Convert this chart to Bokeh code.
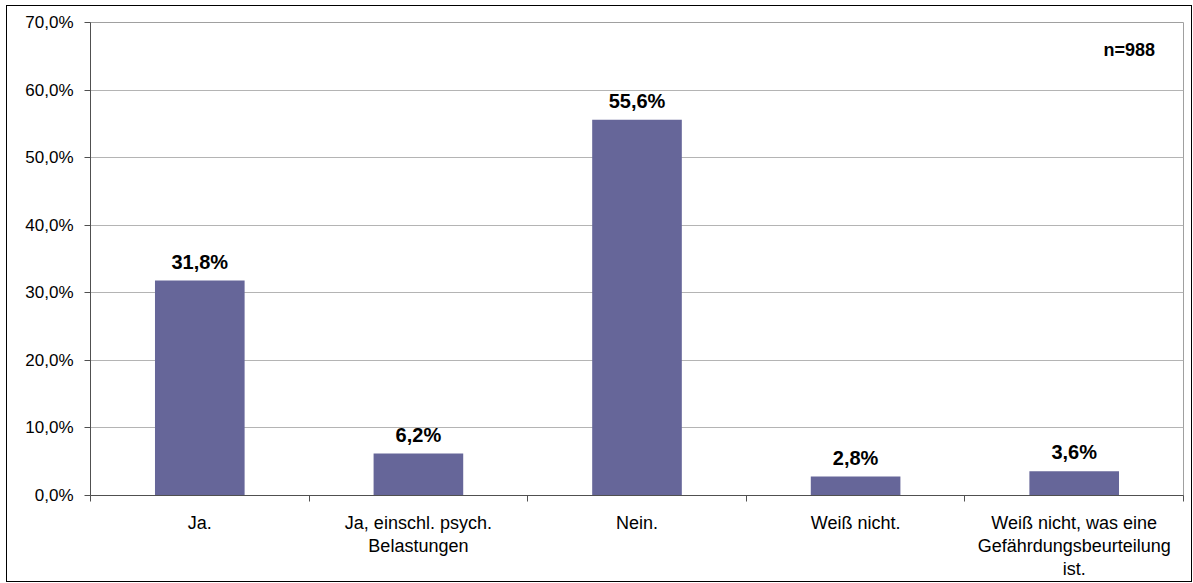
from bokeh.plotting import figure
from bokeh.models import (FixedTicker, Range1d, Label,
                          ColumnDataSource, CustomJSTickFormatter)
from bokeh.embed import file_html
from bokeh.resources import INLINE
from bokeh.core.properties import value

# ---- data ----
categories = ["Ja.",
              "Ja, einschl. psych.\nBelastungen",
              "Nein.",
              "Weiß nicht.",
              "Weiß nicht, was eine\nGefährdungsbeurteilung\nist."]
values = [31.8, 6.2, 55.6, 2.8, 3.6]
y_ticks = [0, 10, 20, 30, 40, 50, 60, 70]
sample_note = "n=988"

FONT = "Liberation Sans"
BAR = "#666699"

x_pos = [i + 0.5 for i in range(len(categories))]
boundaries = list(range(len(categories) + 1))
labels = [f"{v:.1f}%".replace(".", ",") for v in values]
src = ColumnDataSource(dict(x=x_pos, top=values, label=labels))

W, H = 1184, 575
p = figure(width=W, height=H,
           x_range=Range1d(0, len(categories)), y_range=Range1d(0, 70),
           output_backend="svg", toolbar_location=None,
           min_border_left=83, min_border_top=16,
           min_border_right=8, min_border_bottom=86)
p.background_fill_color = "white"
p.border_fill_color = "white"
p.outline_line_color = "#a0a0a0"
p.outline_line_width = 1
p.styles = {"margin-left": "7px", "margin-top": "6px",
            "outline": "1px solid black", "outline-offset": "0px"}

# bars
p.vbar(x="x", top="top", width=0.41, source=src,
       fill_color=BAR, line_color=None)

# value labels
p.text(x="x", y="top", text="label", source=src,
       text_align="center", text_baseline="middle", y_offset=-19,
       text_font=value(FONT), text_font_size="20px",
       text_font_style="bold", text_color="black")

# y axis
p.yaxis.ticker = FixedTicker(ticks=y_ticks)
p.yaxis.formatter = CustomJSTickFormatter(
    code="return tick.toFixed(1).replace('.', ',') + '%';")
p.yaxis.major_label_text_font = FONT
p.yaxis.major_label_text_font_size = "17px"
p.yaxis.major_label_text_color = "black"
p.yaxis.major_tick_out = 6
p.yaxis.major_tick_in = 0
p.yaxis.minor_tick_line_color = None
p.yaxis.axis_line_color = "#505050"
p.yaxis.major_tick_line_color = "#505050"
p.yaxis.major_label_standoff = 11

# x axis: ticks at category boundaries, labels at centers
p.xaxis.ticker = FixedTicker(ticks=x_pos, minor_ticks=boundaries)
p.xaxis.major_label_overrides = {x: c for x, c in zip(x_pos, categories)}
p.xaxis.major_tick_out = 0
p.xaxis.major_tick_in = 0
p.xaxis.minor_tick_out = 6
p.xaxis.minor_tick_in = 0
p.xaxis.minor_tick_line_color = "#505050"
p.xaxis.axis_line_color = "#505050"
p.xaxis.major_label_text_font = FONT
p.xaxis.major_label_text_font_size = "18px"
p.xaxis.major_label_text_color = "black"
p.xaxis.major_label_text_line_height = 1.15
p.xaxis.major_label_standoff = 11

# grid
p.xgrid.visible = False
p.ygrid.ticker = FixedTicker(ticks=y_ticks)
p.ygrid.grid_line_color = "#b4b4b4"
p.ygrid.grid_line_width = 1

# n note
p.add_layout(Label(x=4.87, y=65.9, text=sample_note,
                   text_align="right", text_baseline="middle",
                   text_font=FONT, text_font_size="18px",
                   text_font_style="bold", text_color="black"))

open("out.html", "w").write(file_html(p, INLINE))
